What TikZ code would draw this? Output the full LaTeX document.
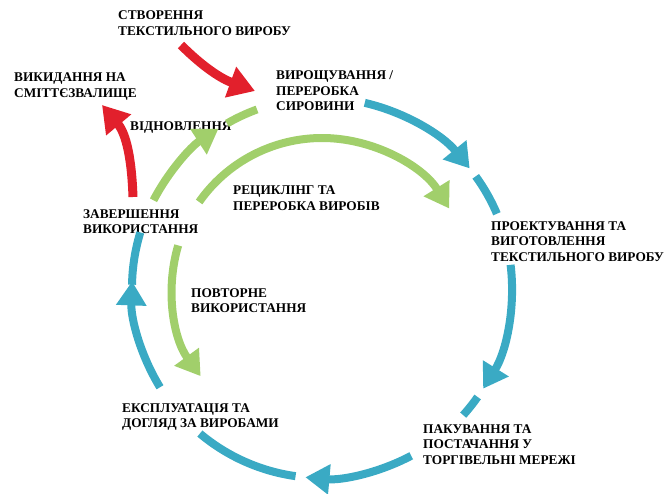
\documentclass[tikz,border=0pt]{standalone}
\usepackage{fontspec}
\setmainfont{Liberation Serif}
\usetikzlibrary{arrows.meta,positioning}

\definecolor{cycleblue}{RGB}{58,170,196}
\definecolor{loopgreen}{RGB}{161,207,107}
\definecolor{wastered}{RGB}{226,32,44}

\begin{document}
\begin{tikzpicture}[
    x=1pt, y=1pt,
    stage/.style={anchor=base west, align=left, inner sep=0pt, font=\fontsize{13.3}{15.5}\selectfont\bfseries},
    ring/.style={line width=8pt, draw=cycleblue},
    ringarrow/.style={ring, -{Triangle[length=24pt, width=29pt]}},
    greenline/.style={line width=8pt, draw=loopgreen},
    greenarrow/.style={greenline, -{Triangle[length=24pt, width=29pt]}},
    waste/.style={line width=9pt, draw=wastered, -{Triangle[length=26pt, width=31pt]}}
]
\useasboundingbox (0,0) rectangle (671,-494);
\coordinate (c) at (322,-288);

% stage labels (placed by the baseline of their last line)
\node[stage] (create) at (118,-35.5) {СТВОРЕННЯ\\ТЕКСТИЛЬНОГО ВИРОБУ};
\node[stage] (landfill) at (14,-97.5) {ВИКИДАННЯ НА\\СМІТТЄЗВАЛИЩЕ};
\node[stage] (grow) at (276,-111) {ВИРОЩУВАННЯ /\\ПЕРЕРОБКА\\СИРОВИНИ};
\node[stage] (recover) at (130,-131) {ВІДНОВЛЕННЯ};
\node[stage] (recycle) at (233,-210.5) {РЕЦИКЛІНГ ТА\\ПЕРЕРОБКА ВИРОБІВ};
\node[stage] (endofuse) at (83,-233.5) {ЗАВЕРШЕННЯ\\ВИКОРИСТАННЯ};
\node[stage] (design) at (491,-261) {ПРОЕКТУВАННЯ ТА\\ВИГОТОВЛЕННЯ\\ТЕКСТИЛЬНОГО ВИРОБУ};
\node[stage] (reuse) at (191,-312.5) {ПОВТОРНЕ\\ВИКОРИСТАННЯ};
\node[stage] (care) at (122,-427.5) {ЕКСПЛУАТАЦІЯ ТА\\ДОГЛЯД ЗА ВИРОБАМИ};
\node[stage] (retail) at (423,-464) {ПАКУВАННЯ ТА\\ПОСТАЧАННЯ У\\ТОРГІВЕЛЬНІ МЕРЕЖІ};

% main life cycle, broken where the labels sit
\draw[ringarrow] ([shift={(77:190)}]c) arc[start angle=77, end angle=39, radius=190];
\draw[ring] ([shift={(36:190)}]c) arc[start angle=36, end angle=23, radius=190];
\draw[ringarrow] ([shift={(7:190)}]c) arc[start angle=7, end angle=-32, radius=190];
\draw[ring] ([shift={(-35:190)}]c) arc[start angle=-35, end angle=-42, radius=190];
\draw[ringarrow] ([shift={(-62:190)}]c) arc[start angle=-62, end angle=-95, radius=190];
\draw[ring] ([shift={(-98:190)}]c) arc[start angle=-98, end angle=-130, radius=190];
\draw[ringarrow] ([shift={(-148.5:190)}]c) arc[start angle=-148.5, end angle=-182, radius=190];
\draw[ring] ([shift={(179:190)}]c) arc[start angle=179, end angle=163, radius=190];

% recovery back to raw material
\draw[greenarrow] ([shift={(152.5:190)}]c) arc[start angle=152.5, end angle=123, radius=190];
\draw[greenline] ([shift={(120:190)}]c) arc[start angle=120, end angle=110, radius=190];

% inner loops
\draw[greenarrow] ([shift={(145:150)}]c) arc[start angle=145, end angle=32, radius=150];
\draw[greenarrow] ([shift={(163.5:150)}]c) arc[start angle=163.5, end angle=216, radius=150];

% entry and exit
\coordinate (createtail) at (181,-45);
\coordinate (growtip) at (255,-91);
\coordinate (endtail) at (133,-197);
\coordinate (landfilltip) at (102,-105);
\draw[waste] (createtail) to[out=-45, in=160] (growtip);
\draw[waste] (endtail) to[out=92, in=-50] (landfilltip);
\end{tikzpicture}
\end{document}
